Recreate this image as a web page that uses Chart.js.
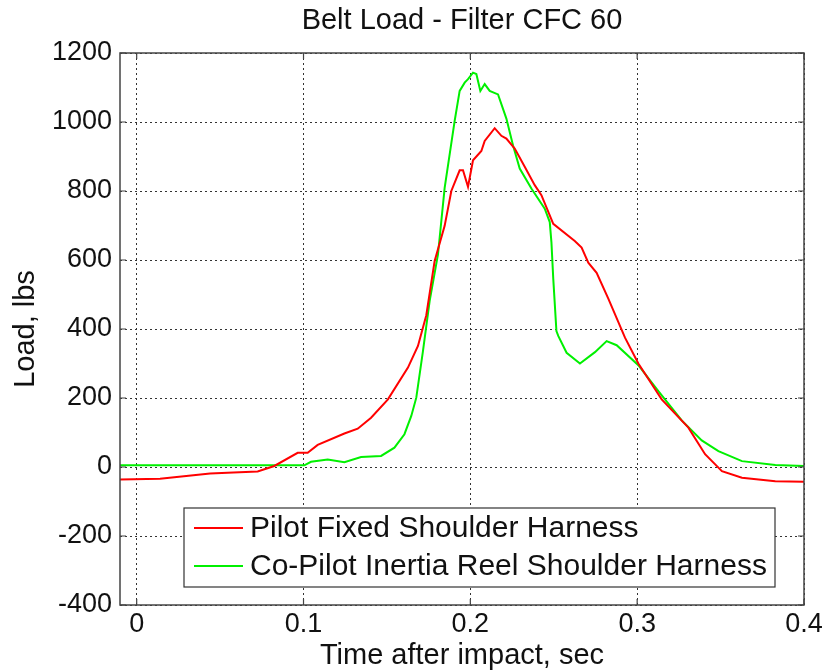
<!DOCTYPE html>
<html lang="en">
<head>
<meta charset="UTF-8" />
<title>Belt Load - Filter CFC 60</title>
<script src="https://cdn.jsdelivr.net/npm/chart.js@4.4.1/dist/chart.umd.min.js"></script>
<style>
  html, body { margin: 0; padding: 0; background: #fff; }
  #wrap { width: 827px; height: 671px; }
</style>
</head>
<body>
<div id="wrap"><canvas id="beltChart"></canvas></div>
<script>
// values
const pilotTime = [-0.01, 0.014, 0.044, 0.058, 0.0725, 0.0825, 0.0965, 0.1025, 0.1085, 0.1245, 0.1325, 0.1405, 0.1506, 0.1626, 0.1686, 0.1736, 0.1786, 0.1846, 0.1886, 0.1936, 0.1956, 0.1986, 0.2016, 0.2066, 0.2086, 0.2146, 0.2186, 0.2216, 0.2266, 0.2326, 0.2386, 0.2426, 0.2497, 0.2626, 0.2667, 0.2707, 0.2757, 0.2827, 0.2927, 0.3007, 0.3147, 0.3307, 0.3407, 0.3508, 0.3628, 0.3828, 0.4];
const pilotLoad = [-36, -34, -19, -16, -13, 3, 41, 41, 64, 97, 111, 143, 196, 288, 351, 440, 597, 699, 800, 860, 860, 812, 889, 916, 945, 982, 960, 952, 923, 870, 817, 788, 705, 655, 636, 592, 563, 488, 375, 300, 196, 114, 37, -12, -31, -41, -43];

const copilotTime = [-0.01, 0.1005, 0.1045, 0.1145, 0.1245, 0.1345, 0.1465, 0.1545, 0.1605, 0.1646, 0.1676, 0.1716, 0.1756, 0.1806, 0.1846, 0.1906, 0.1936, 0.1966, 0.1986, 0.2016, 0.2036, 0.206, 0.2086, 0.2116, 0.2166, 0.2216, 0.2256, 0.2296, 0.2366, 0.2446, 0.2476, 0.2486, 0.2497, 0.2516, 0.2527, 0.2577, 0.2657, 0.2747, 0.2817, 0.2877, 0.3007, 0.3127, 0.3267, 0.3387, 0.3487, 0.3628, 0.3828, 0.4];
const copilotLoad = [5, 5, 15, 22, 14, 29, 32, 56, 95, 148, 201, 336, 481, 616, 809, 1003, 1090, 1114, 1124, 1143, 1139, 1090, 1110, 1090, 1080, 1010, 932, 865, 807, 749, 710, 652, 546, 394, 380, 331, 300, 333, 365, 353, 295, 220, 135, 77, 46, 17, 6, 3];

const xTicks = [0, 0.1, 0.2, 0.3, 0.4];
const yTicks = [-400, -200, 0, 200, 400, 600, 800, 1000, 1200];

const chartTitle = "Belt Load - Filter CFC 60";
const seriesLabels = ["Pilot Fixed Shoulder Harness", "Co-Pilot Inertia Reel Shoulder Harness"];
const seriesColors = ["#ff0000", "#00f000"];

const FONT = "'Liberation Sans', Arial, sans-serif";
const TEXT = "#111";

const toPoints = (xs, ys) => xs.map((x, i) => ({ x, y: ys[i] }));

// matlab style: title centred over the axes, box with inward ticks, legend inside
const framePlugin = {
  id: "frame",
  afterDraw(chart) {
    const { ctx, chartArea: a, scales } = chart;
    ctx.save();

    ctx.fillStyle = TEXT;
    ctx.font = "29px " + FONT;
    ctx.textAlign = "center";
    ctx.textBaseline = "middle";
    ctx.fillText(chartTitle, (a.left + a.right) / 2, 21);
    ctx.textAlign = "left";

    ctx.strokeStyle = "#444";
    ctx.lineWidth = 1.5;
    ctx.strokeRect(a.left, a.top, a.right - a.left, a.bottom - a.top);

    ctx.lineWidth = 1.2;
    ctx.beginPath();
    xTicks.forEach((v) => {
      const px = scales.x.getPixelForValue(v);
      ctx.moveTo(px, a.bottom); ctx.lineTo(px, a.bottom - 6);
      ctx.moveTo(px, a.top); ctx.lineTo(px, a.top + 6);
    });
    yTicks.forEach((v) => {
      const py = scales.y.getPixelForValue(v);
      ctx.moveTo(a.left, py); ctx.lineTo(a.left + 6, py);
      ctx.moveTo(a.right, py); ctx.lineTo(a.right - 6, py);
    });
    ctx.stroke();

    // legend
    const bx = a.left + 64, by = a.bottom - 97;
    const bw = a.right - 29 - bx, bh = 79;
    ctx.fillStyle = "#fff";
    ctx.fillRect(bx, by, bw, bh);
    ctx.strokeStyle = "#333";
    ctx.lineWidth = 1.2;
    ctx.strokeRect(bx, by, bw, bh);
    ctx.font = "30px " + FONT;
    chart.data.datasets.forEach((ds, i) => {
      const y = by + 20 + i * 38;
      ctx.strokeStyle = ds.borderColor;
      ctx.lineWidth = 2;
      ctx.beginPath();
      ctx.moveTo(bx + 10, y);
      ctx.lineTo(bx + 59, y);
      ctx.stroke();
      ctx.fillStyle = TEXT;
      ctx.fillText(ds.label, bx + 66, y + 1);
    });
    ctx.restore();
  },
};

new Chart(document.getElementById("beltChart"), {
  type: "line",
  data: {
    datasets: [
      {
        label: seriesLabels[0],
        data: toPoints(pilotTime, pilotLoad),
        borderColor: seriesColors[0],
        borderWidth: 2,
        pointRadius: 0,
        tension: 0,
      },
      {
        label: seriesLabels[1],
        data: toPoints(copilotTime, copilotLoad),
        borderColor: seriesColors[1],
        borderWidth: 2,
        pointRadius: 0,
        tension: 0,
      },
    ],
  },
  options: {
    responsive: true,
    maintainAspectRatio: false,
    animation: false,
    layout: { padding: { left: 0, right: 23, top: 53, bottom: 0 } },
    plugins: {
      legend: { display: false },
      tooltip: { enabled: false },
      title: { display: false },
    },
    scales: {
      x: {
        type: "linear",
        min: -0.01,
        max: 0.4,
        afterBuildTicks: (s) => { s.ticks = xTicks.map((v) => ({ value: v })); },
        afterFit: (s) => { s.height = 66; },
        grid: { color: "#333", lineWidth: 1, drawTicks: false },
        border: { display: false, dash: [2, 3] },
        ticks: {
          color: TEXT,
          padding: 3,
          font: { family: FONT, size: 27 },
          callback: (v) => String(+v.toFixed(2)),
        },
        title: {
          display: true,
          text: "Time after impact, sec",
          color: TEXT,
          font: { family: FONT, size: 29 },
          padding: { top: 0, bottom: -2 },
        },
      },
      y: {
        min: -400,
        max: 1200,
        afterBuildTicks: (s) => { s.ticks = yTicks.map((v) => ({ value: v })); },
        afterFit: (s) => { s.width = 120; },
        grid: { color: "#333", lineWidth: 1, drawTicks: false },
        border: { display: false, dash: [2, 3] },
        ticks: {
          color: TEXT,
          padding: 8,
          font: { family: FONT, size: 27 },
          callback: (v) => String(v),
        },
        title: {
          display: true,
          text: "Load, lbs",
          color: TEXT,
          font: { family: FONT, size: 29 },
          padding: { top: 9, bottom: 0 },
        },
      },
    },
  },
  plugins: [framePlugin],
});
</script>
</body>
</html>
